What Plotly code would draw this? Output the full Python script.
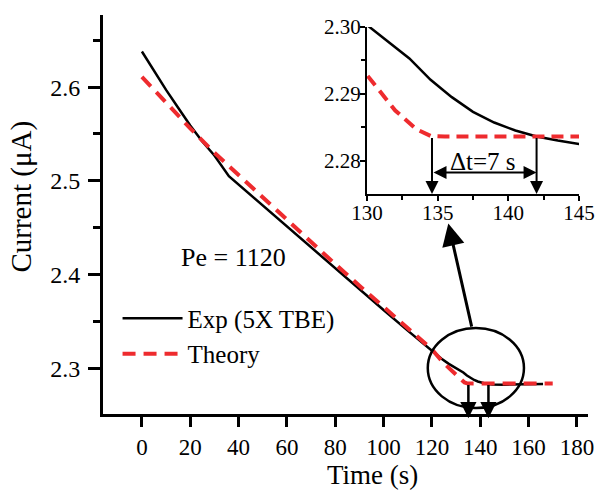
import plotly.graph_objects as go

# ---- data ----
exp_t = [0, 5, 10, 15, 20, 25, 30, 36, 40, 50, 60, 70, 80, 90, 100, 110, 116, 120, 124, 127,
         130, 131.5, 133, 134.5, 136, 137.5, 139, 140.5, 142, 143.5, 145, 150, 155, 160, 166]
exp_I = [2.638, 2.617, 2.597, 2.578, 2.559, 2.542, 2.527, 2.505, 2.496, 2.474, 2.452, 2.429,
         2.407, 2.384, 2.362, 2.340, 2.327, 2.318, 2.310, 2.3045,
         2.3003, 2.2978, 2.2953, 2.2921, 2.2895, 2.2873, 2.2857, 2.2845, 2.2836, 2.2830,
         2.2825, 2.2823, 2.2825, 2.2828, 2.2830]

th_t = [0, 10, 20, 30, 40, 50, 60, 70, 80, 90, 100, 110, 120, 125, 130, 132, 133.5, 134.5,
        135.5, 140, 150, 160, 170]
th_I = [2.611, 2.583, 2.556, 2.530, 2.506, 2.482, 2.458, 2.434, 2.411, 2.388, 2.365, 2.343,
        2.320, 2.305, 2.2928, 2.2875, 2.2847, 2.2837, 2.2836, 2.2836, 2.2836, 2.2836, 2.2836]

x_ticks = [0, 20, 40, 60, 80, 100, 120, 140, 160, 180]
y_ticks = [2.3, 2.4, 2.5, 2.6]
inset_x_ticks = [130, 135, 140, 145]
inset_y_ticks = [2.28, 2.29, 2.30]

t_theory_end = 134.6   # theory reaches plateau
t_exp_end = 142.0      # experiment reaches plateau
plateau = 2.2836

FONT = "Liberation Serif"
RED = "#ee2b2e"

fig = go.Figure()
# main
fig.add_trace(go.Scatter(x=exp_t, y=exp_I, mode="lines", name="Exp (5X TBE)",
                         line=dict(color="black", width=2.5)))
fig.add_trace(go.Scatter(x=th_t, y=th_I, mode="lines", name="Theory",
                         line=dict(color=RED, width=4, dash="13px,8px")))
# inset
fig.add_trace(go.Scatter(x=exp_t, y=exp_I, mode="lines", showlegend=False,
                         xaxis="x2", yaxis="y2", line=dict(color="black", width=2.5)))
fig.add_trace(go.Scatter(x=th_t, y=th_I, mode="lines", showlegend=False,
                         xaxis="x2", yaxis="y2", line=dict(color=RED, width=4, dash="12px,7px")))

axis_common = dict(showgrid=False, zeroline=False, showline=True, linecolor="black",
                   ticks="outside", tickcolor="black", automargin=False)

fig.update_layout(
    width=595, height=490,
    margin=dict(l=103, r=7, t=15, b=76),
    paper_bgcolor="white", plot_bgcolor="white",
    font=dict(family=FONT, color="black"),
    xaxis=dict(domain=[0, 1], range=[-16.1, 184.6], tickvals=x_ticks,
               linewidth=3, tickwidth=3, ticklen=10, ticklabelstandoff=0,
               tickfont=dict(size=23, family=FONT, color="black"), **axis_common),
    yaxis=dict(domain=[0, 1], range=[2.251, 2.677], tickvals=y_ticks,
               linewidth=3, tickwidth=3, ticklen=12, ticklabelstandoff=3,
               minor=dict(tickvals=[2.35, 2.45, 2.55, 2.65], ticks="outside",
                          ticklen=7, tickwidth=3, tickcolor="black"),
               tickfont=dict(size=24, family=FONT, color="black"), **axis_common),
    xaxis2=dict(domain=[0.5443, 0.9814], range=[130, 145], anchor="y2", tickvals=inset_x_ticks,
                linewidth=2, tickwidth=2, ticklen=5, ticklabelstandoff=-6,
                minor=dict(tickvals=[132.5, 137.5, 142.5], ticks="outside",
                           ticklen=4, tickwidth=2, tickcolor="black"),
                tickfont=dict(size=21, family=FONT, color="black"), **axis_common),
    yaxis2=dict(domain=[0.5514, 0.9699], range=[2.275, 2.300], anchor="x2",
                tickvals=inset_y_ticks, tickformat=".2f",
                linewidth=2, tickwidth=2, ticklen=5, ticklabelstandoff=-5,
                minor=dict(tickvals=[2.285, 2.295], ticks="outside",
                           ticklen=4, tickwidth=2, tickcolor="black"),
                tickfont=dict(size=21, family=FONT, color="black"), **axis_common),
    legend=dict(x=0.03, y=0.297, xanchor="left", yanchor="top", bgcolor="rgba(0,0,0,0)",
                font=dict(size=25, family=FONT, color="black"), itemwidth=60,
                tracegroupgap=0),
    showlegend=True,
)

# ellipse around the plateau region
fig.add_shape(type="circle", xref="x", yref="y", x0=118.3, x1=158.1, y0=2.2573, y1=2.3427,
              line=dict(color="black", width=2.5))

annotations = [
    # axis titles
    dict(text="Time (s)", xref="paper", yref="paper", x=0.5567, y=-0.152,
         showarrow=False, font=dict(size=27, family=FONT, color="black"),
         xanchor="center", yanchor="middle"),
    dict(text="Current (μA)", xref="paper", yref="paper", x=-0.167, y=0.545,
         showarrow=False, textangle=-90, font=dict(size=29, family=FONT, color="black"),
         xanchor="center", yanchor="middle"),
    dict(text="Pe = 1120", xref="x", yref="y", x=38.1, y=2.4185, showarrow=False,
         font=dict(size=26, family=FONT, color="black")),
    # big arrow from ellipse to inset
    dict(text="", xref="x", yref="y", x=126.8, y=2.4545, axref="x", ayref="y",
         ax=136.6, ay=2.3427, showarrow=True, arrowhead=2, arrowsize=1.5,
         arrowwidth=3, arrowcolor="black"),
    # down arrows on main plot
    dict(text="", xref="x", yref="y", x=135.1, y=2.2465, axref="x", ayref="y",
         ax=135.1, ay=plateau, showarrow=True, arrowhead=2, arrowsize=1.3,
         arrowwidth=2.5, arrowcolor="black"),
    dict(text="", xref="x", yref="y", x=143.4, y=2.2465, axref="x", ayref="y",
         ax=143.4, ay=plateau, showarrow=True, arrowhead=2, arrowsize=1.3,
         arrowwidth=2.5, arrowcolor="black"),
    # inset arrows
    dict(text="", xref="x2", yref="y2", x=t_theory_end, y=2.275, axref="x2", ayref="y2",
         ax=t_theory_end, ay=plateau, showarrow=True, arrowhead=2, arrowsize=1.3,
         arrowwidth=2, arrowcolor="black"),
    dict(text="", xref="x2", yref="y2", x=t_exp_end, y=2.275, axref="x2", ayref="y2",
         ax=t_exp_end, ay=plateau, showarrow=True, arrowhead=2, arrowsize=1.3,
         arrowwidth=2, arrowcolor="black"),
    dict(text="", xref="x2", yref="y2", x=t_exp_end, y=2.2782, axref="x2", ayref="y2",
         ax=t_theory_end, ay=2.2782, showarrow=True, arrowhead=2, arrowsize=1.3,
         startarrowhead=2, startarrowsize=1.3, arrowside="end+start",
         arrowwidth=2, arrowcolor="black"),
    dict(text="Δt=7 s", xref="x2", yref="y2", x=138.2, y=2.2799, showarrow=False,
         font=dict(size=25, family=FONT, color="black")),
]
fig.update_layout(annotations=annotations)

fig.write_html("out.html")
